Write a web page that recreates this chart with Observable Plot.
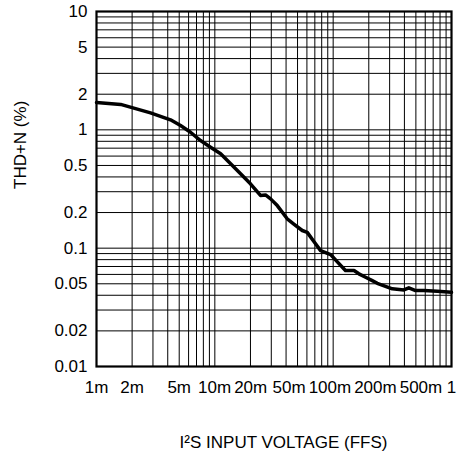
<!DOCTYPE html>
<html>
<head>
<meta charset="utf-8">
<script src="https://cdn.jsdelivr.net/npm/d3@7"></script>
<script src="https://cdn.jsdelivr.net/npm/@observablehq/plot@0.6"></script>
<style>
  html, body { margin: 0; padding: 0; background: #fff; }
  #chart svg { display: block; }
</style>
</head>
<body>
<div id="chart"></div>
<script>
// Measured curve: I2S input voltage (FFS) vs THD+N (%)
const inputVoltage = [0.001, 0.0016, 0.00286, 0.00422, 0.00513, 0.00623, 0.00757, 0.0092, 0.0112, 0.0136, 0.0165, 0.020, 0.0243, 0.0268, 0.0296, 0.0337, 0.0409, 0.0465, 0.0548, 0.0604, 0.0687, 0.0783, 0.0951, 0.108, 0.127, 0.150, 0.165, 0.188, 0.214, 0.236, 0.316, 0.396, 0.436, 0.497, 0.585, 0.759, 1.0];
const thdN = [1.70, 1.64, 1.39, 1.215, 1.087, 0.954, 0.812, 0.713, 0.627, 0.516, 0.425, 0.350, 0.279, 0.282, 0.261, 0.229, 0.177, 0.160, 0.141, 0.136, 0.1137, 0.0954, 0.0883, 0.077, 0.0647, 0.0647, 0.0607, 0.0568, 0.0532, 0.0505, 0.0453, 0.0444, 0.0462, 0.0438, 0.0438, 0.0432, 0.0424];

// Axis ticks and labels
const xTickValues = [0.001, 0.002, 0.005, 0.01, 0.02, 0.05, 0.1, 0.2, 0.5, 1];
const xTickLabels = ["1m", "2m", "5m", "10m", "20m", "50m", "100m", "200m", "500m", "1"];
const yTickValues = [0.01, 0.02, 0.05, 0.1, 0.2, 0.5, 1, 2, 5, 10];
const yTickLabels = ["0.01", "0.02", "0.05", "0.1", "0.2", "0.5", "1", "2", "5", "10"];

// Grid: every 1..9 within each decade
const gridMultipliers = [1, 2, 3, 4, 5, 6, 7, 8, 9];
const xDecades = [0.001, 0.01, 0.1];
const yDecades = [0.01, 0.1, 1];
const xGrid = xDecades.flatMap(d => gridMultipliers.map(m => +(d * m).toPrecision(3))).concat([1]);
const yGrid = yDecades.flatMap(d => gridMultipliers.map(m => +(d * m).toPrecision(3))).concat([10]);

const xTitle = "I²S INPUT VOLTAGE (FFS)";
const yTitle = "THD+N (%)";

// Layout
const W = 463, H = 457;
const mL = 96, mT = 11, mR = 12, mB = 91;
const FONT = "'Liberation Sans', Arial, sans-serif";
const tickFont = 17;

const data = inputVoltage.map((v, i) => ({v, t: thdN[i]}));
const yTicks = yTickValues.map((v, i) => ({v, label: yTickLabels[i]}));

// x tick labels: centred under their ticks, then nudged apart where they would collide
const xScale = Plot.scale({x: {type: "log", domain: [0.001, 1], range: [mL, W - mR]}});
const ctx = document.createElement("canvas").getContext("2d");
ctx.font = `${tickFont}px ${FONT}`;
const widths = xTickLabels.map(s => ctx.measureText(s).width);
const pos = xTickValues.map(v => xScale.apply(v));
const gap = 3;
for (let iter = 0; iter < 300; iter++) {
  for (let i = 0; i < pos.length - 1; i++) {
    const overlap = (pos[i] + widths[i] / 2 + gap) - (pos[i + 1] - widths[i + 1] / 2);
    if (overlap > 0) { pos[i] -= overlap / 2; pos[i + 1] += overlap / 2; }
  }
}
const xTicks = xTickLabels.map((label, i) => ({v: xScale.invert(pos[i]), label}));

const chart = Plot.plot({
  width: W,
  height: H,
  marginLeft: mL,
  marginTop: mT,
  marginRight: mR,
  marginBottom: mB,
  style: {fontFamily: FONT, color: "#000", background: "#fff", overflow: "visible"},
  x: {type: "log", domain: [0.001, 1], axis: null},
  y: {type: "log", domain: [0.01, 10], axis: null},
  marks: [
    Plot.gridX(xGrid, {stroke: "#000", strokeOpacity: 1, strokeWidth: 1}),
    Plot.gridY(yGrid, {stroke: "#000", strokeOpacity: 1, strokeWidth: 1}),
    Plot.frame({stroke: "#000", strokeWidth: 2.2}),
    Plot.line(data, {x: "v", y: "t", stroke: "#000", strokeWidth: 3.5, strokeLinejoin: "round"}),
    Plot.text(xTicks, {x: "v", text: "label", frameAnchor: "bottom", dy: 21, fontSize: tickFont, lineAnchor: "middle", textAnchor: "middle", fill: "#000", clip: false}),
    Plot.text(yTicks, {y: "v", text: "label", frameAnchor: "left", dx: -9, fontSize: tickFont, lineAnchor: "middle", textAnchor: "end", fill: "#000"}),
    Plot.text([xTitle], {frameAnchor: "bottom", dy: 76, dx: 9.5, fontSize: 17, lineAnchor: "middle", fill: "#000"}),
    Plot.text([yTitle], {frameAnchor: "left", dx: -76, rotate: -90, fontSize: 17, lineAnchor: "middle", fill: "#000"})
  ]
});
document.getElementById("chart").appendChild(chart);
</script>
</body>
</html>
